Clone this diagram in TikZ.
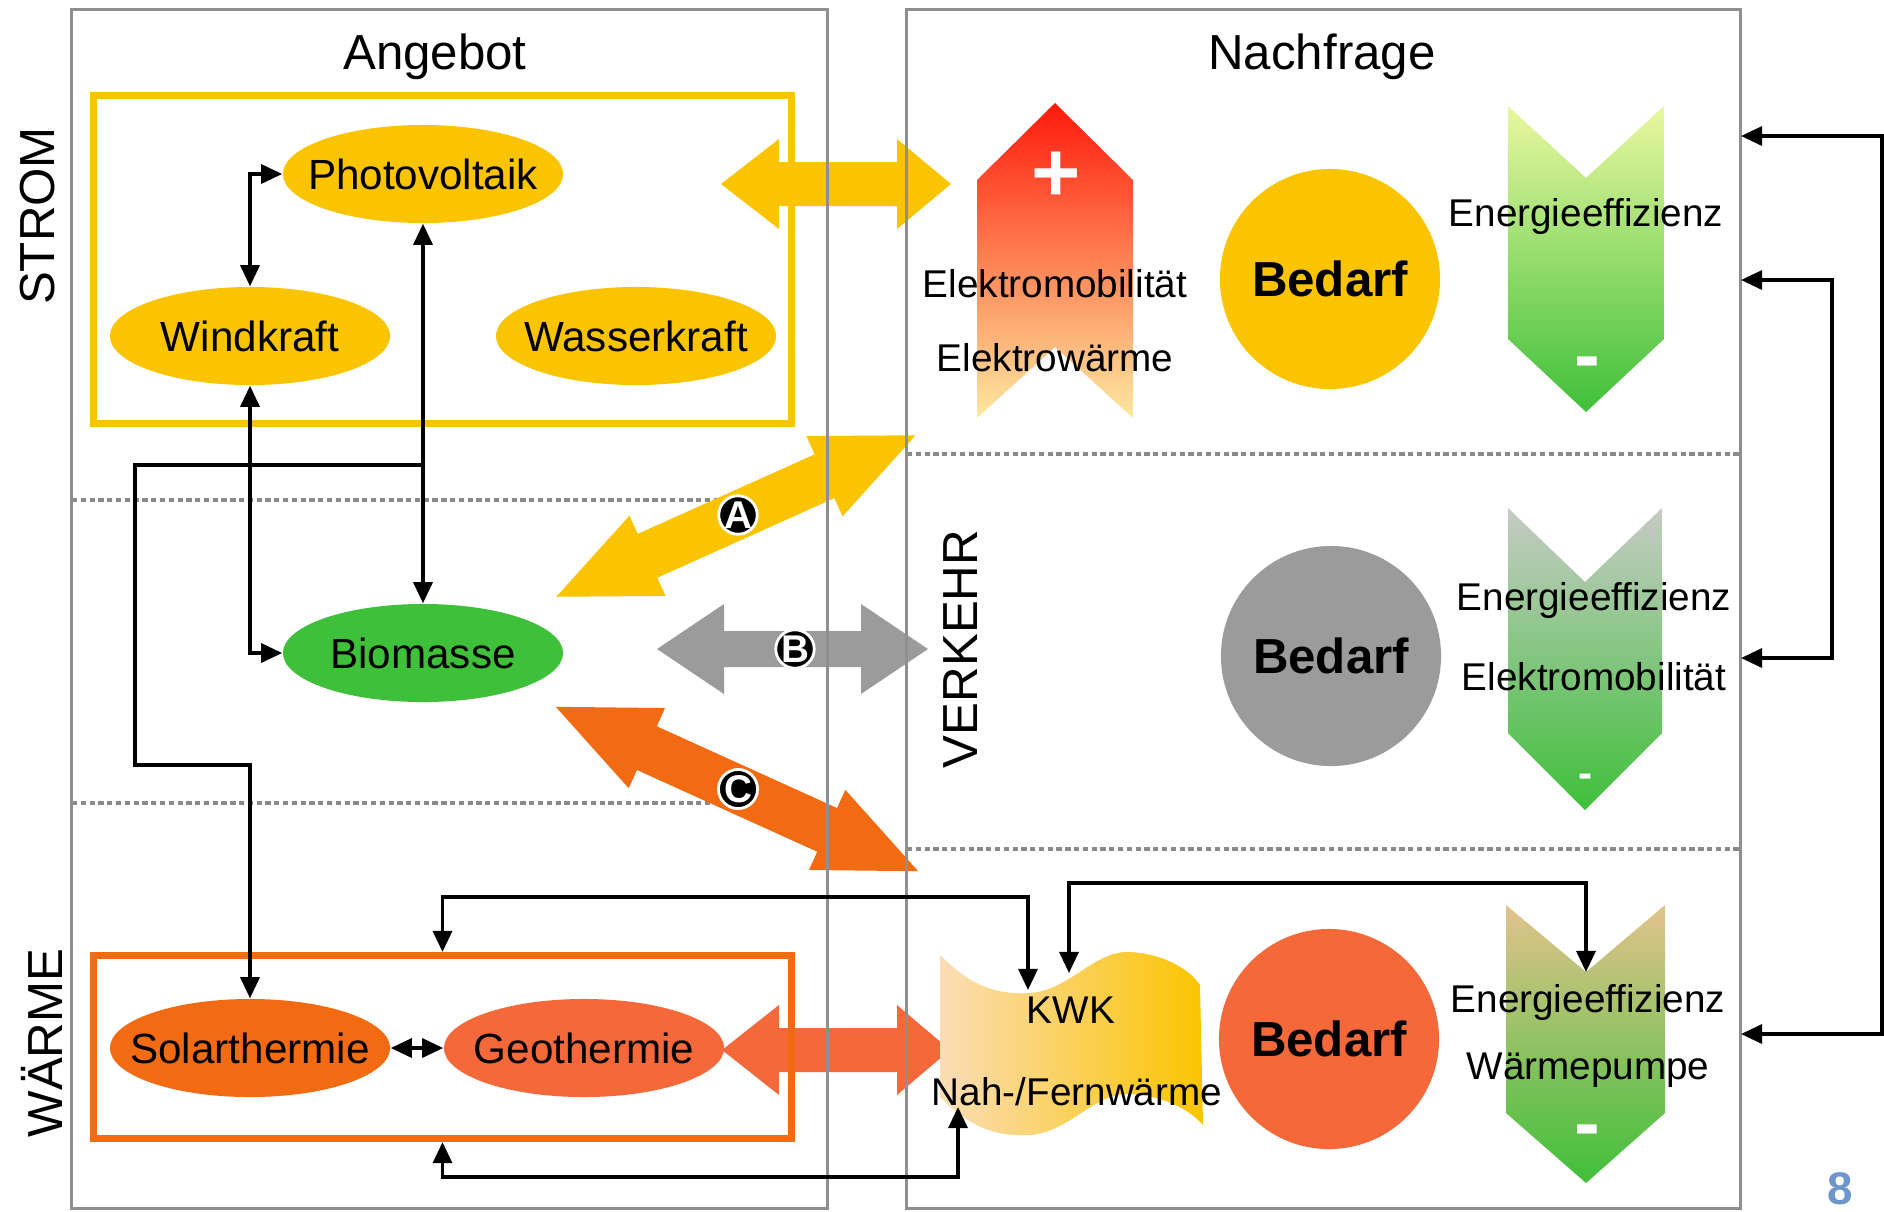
\documentclass[tikz,border=0pt]{standalone}
\usepackage{fontspec}
\setmainfont{Liberation Sans}
\usepackage{tikz}
\usetikzlibrary{
arrows.meta,
positioning,
shapes.geometric,
calc
}
\definecolor{EWGelb}{HTML}{FBC400}
\definecolor{EWOrange}{HTML}{F26B12}
\definecolor{EWKoralle}{HTML}{F4683A}
\definecolor{EWGruen}{HTML}{3FC03A}
\definecolor{EWGrau}{HTML}{9B9B9B}
\definecolor{EWRahmen}{HTML}{8F8F8F}
\definecolor{EWStrich}{HTML}{8A8A8A}
\definecolor{EWRot}{HTML}{FF1A0A}
\definecolor{EWLachs}{HTML}{FF7A48}
\definecolor{EWBlass}{HTML}{FCE9A0}
\definecolor{EWHellgruen}{HTML}{EAF7A0}
\definecolor{EWGraugruen}{HTML}{C6CBC4}
\definecolor{EWBeige}{HTML}{E2C38C}
\definecolor{EWPfirsich}{HTML}{FBDDB6}
\definecolor{EWBlau}{HTML}{6C96CC}

\begin{document}
\begin{tikzpicture}[x=0.01cm, y=-0.01cm,
quelle/.style={ellipse, inner sep=0pt, minimum width=2.8cm, minimum height=0.98cm, font=\fontsize{12}{14}\selectfont},
bedarf/.style={circle, inner sep=0pt, minimum size=2.2cm, font=\fontsize{14}{16}\selectfont\bfseries},
rahmen/.style={draw=EWRahmen, line width=0.9pt, minimum height=11.98cm},
trenner/.style={EWStrich, line width=0.9pt, dash pattern=on 1.5pt off 1pt},
link/.style={line width=1pt, -{Triangle[length=6pt,width=5.4pt]}},
link2/.style={line width=1pt, {Triangle[length=6pt,width=5.4pt]}-{Triangle[length=6pt,width=5.4pt]}},
kreis/.style={circle, fill=black, draw=white, line width=0.8pt, text=white, inner sep=0pt, minimum size=0.38cm, font=\fontsize{11}{12}\selectfont\bfseries},
titel/.style={font=\fontsize{14}{16}\selectfont},
klein/.style={font=\fontsize{11}{13}\selectfont},
zeichen/.style={text=white, inner sep=0pt, font=\fontsize{22}{22}\selectfont\bfseries}
]
\useasboundingbox (0,0) rectangle (1884,1211);
\fill[white] (0,0) rectangle (1884,1211);

\draw[trenner] (72,500) -- (720,500);
\draw[trenner] (72,803) -- (720,803);
\draw[trenner] (907,454) -- (1740,454);
\draw[trenner] (907,849) -- (1740,849);

\fill[EWGelb] (721,184) -- (779,139) -- (779,162) -- (897,162) -- (897,139) -- (951,184) -- (897,229) -- (897,206) -- (779,206) -- (779,229) -- cycle;
\fill[EWKoralle] (722,1050) -- (779,1005) -- (779,1028) -- (897,1028) -- (897,1005) -- (950,1050) -- (897,1095) -- (897,1072) -- (779,1072) -- (779,1095) -- cycle;
\fill[EWGrau] (657,649) -- (724,604) -- (724,631) -- (861,631) -- (861,604) -- (928,649) -- (861,694) -- (861,667) -- (724,667) -- (724,694) -- cycle;
\begin{scope}[shift={(736,516)}, rotate=24.2]
\fill[EWGelb] (-197,0) -- (-97,44) -- (-97,24) -- (97,24) -- (97,44) -- (197,0) -- (97,-44) -- (97,-24) -- (-97,-24) -- (-97,-44) -- cycle;
\end{scope}
\begin{scope}[shift={(737,789)}, rotate=-24.4]
\fill[EWOrange] (-199,0) -- (-99,44) -- (-99,24) -- (99,24) -- (99,44) -- (199,0) -- (99,-44) -- (99,-24) -- (-99,-24) -- (-99,-44) -- cycle;
\end{scope}

\node[rahmen, minimum width=7.55cm] (angebot) at (449.5,609) {};
\node[rahmen, minimum width=8.33cm] (nachfrage) at (1323.5,609) {};
\node[titel] (titelA) at (435,57) {Angebot};
\node[titel] (titelN) at (1322,57) {Nachfrage};
\node[titel, rotate=90] (strom) at (38,216) {STROM};
\node[titel, rotate=90] (waermelabel) at (42,1043) {WÄRME};
\node[titel, rotate=90] (verkehr) at (961,649) {VERKEHR};

\node[draw=EWGelb, line width=2pt, minimum width=6.97cm, minimum height=3.27cm] (stromkasten) at (442.5,259.5) {};
\node[draw=EWOrange, line width=2pt, minimum width=6.97cm, minimum height=1.83cm] (waerme) at (442.5,1047) {};

\node[quelle, fill=EWGelb] (pv) at (423,174) {\makebox[0pt]{Photovoltaik}};
\node[quelle, fill=EWGelb] (wind) at (250,336) {\makebox[0pt]{Windkraft}};
\node[quelle, fill=EWGelb] (wasser) at (636,336) {\makebox[0pt]{Wasserkraft}};
\node[quelle, fill=EWGruen] (bio) at (423,653) {\makebox[0pt]{Biomasse}};
\node[quelle, fill=EWOrange] (solar) at (250,1048) {\makebox[0pt]{Solarthermie}};
\node[quelle, fill=EWKoralle] (geo) at (584,1048) {\makebox[0pt]{Geothermie}};

\coordinate (abzw) at (423,465);
\coordinate (knick) at (135,765);
\draw[link2] (wind.north) |- (pv.west);
\draw[link2] (wind.south) |- (bio.west);
\draw[link2] (pv.south) -- (bio.north);
\draw[link] (abzw) -| (knick) -| (solar.north);
\draw[link2] (solar.east) -- (geo.west);

\shade[top color=EWRot, middle color=EWLachs, bottom color=EWBlass] (1055,103) -- (1133,180) -- (1133,418) -- (1055,347) -- (977,418) -- (977,180) -- cycle;
\node[zeichen, font=\fontsize{24}{24}\selectfont\bfseries] (plus) at (1056,177) {+};
\node[klein] (emob1) at (1055,284) {Elektromobilität};
\node[klein] (ewaerme) at (1055,358) {Elektrowärme};

\shade[left color=EWPfirsich, right color=EWGelb] (940,955) .. controls (970,985) and (995,995) .. (1030,993) .. controls (1070,990) and (1095,950) .. (1130,952) .. controls (1165,954) and (1190,970) .. (1200,985) -- (1203,1125) .. controls (1190,1110) and (1165,1096) .. (1130,1094) .. controls (1095,1092) and (1070,1132) .. (1030,1135) .. controls (995,1137) and (970,1127) .. (940,1097) -- cycle;
\node[klein] (kwk) at (1071,1010) {KWK};
\node[klein] (fernw) at (1077,1092) {Nah-/Fernwärme};

\node[bedarf, fill=EWGelb] (bedarfS) at (1330,279) {\makebox[0pt]{Bedarf}};
\node[bedarf, fill=EWGrau] (bedarfV) at (1331,656) {\makebox[0pt]{Bedarf}};
\node[bedarf, fill=EWKoralle] (bedarfW) at (1329,1039) {\makebox[0pt]{Bedarf}};

\shade[top color=EWHellgruen, bottom color=EWGruen] (1508,106) -- (1586,178) -- (1664,106) -- (1664,339) -- (1586,412) -- (1508,339) -- cycle;
\shade[top color=EWGraugruen, bottom color=EWGruen] (1508,508) -- (1585,582) -- (1662,508) -- (1662,733) -- (1585,810) -- (1508,733) -- cycle;
\shade[top color=EWBeige, bottom color=EWGruen] (1506,905) -- (1586,972) -- (1665,905) -- (1665,1113) -- (1586,1183) -- (1506,1113) -- cycle;
\node[zeichen] (minusS) at (1587,369) {-};
\node[zeichen, font=\fontsize{12}{12}\selectfont\bfseries] (minusV) at (1586,781) {-};
\node[zeichen] (minusW) at (1587,1137) {-};
\node[klein] (effS) at (1586,216) {Energieeffizienz};
\node[klein] (effV) at (1594,600) {Energieeffizienz};
\node[klein] (emob2) at (1594,677) {Elektromobilität};
\node[klein] (effW) at (1588,1002) {Energieeffizienz};
\node[klein] (wpumpe) at (1588,1070) {Wärmepumpe};

\coordinate (kwkL) at (1028,990);
\coordinate (kwkR) at (1069,973);
\coordinate (kwkU) at (958,1107);
\coordinate (kerbeW) at (1586,972);
\draw[link2] (waerme.north) -- ++(0,-55) -| (kwkL);
\draw[link2] (waerme.south) -- ++(0,35) -| (kwkU);
\draw[link2] (kwkR) -- ++(0,-90) -| (kerbeW);

\coordinate (einS) at (1741,136);
\coordinate (einW) at (1741,1034);
\coordinate (einS2) at (1741,280);
\coordinate (einV) at (1741,658);
\draw[link2] (einS) -- ++(141,0) |- (einW);
\draw[link2] (einS2) -- ++(91,0) |- (einV);

\node[kreis] (kreisA) at (738,515) {A};
\node[kreis] (kreisB) at (795,649) {B};
\node[kreis] (kreisC) at (738,789) {C};

\node[inner sep=0pt, font=\fontsize{13}{13}\selectfont\bfseries, text=EWBlau] (seite) at (1840,1189) {8};
\end{tikzpicture}
\end{document}
